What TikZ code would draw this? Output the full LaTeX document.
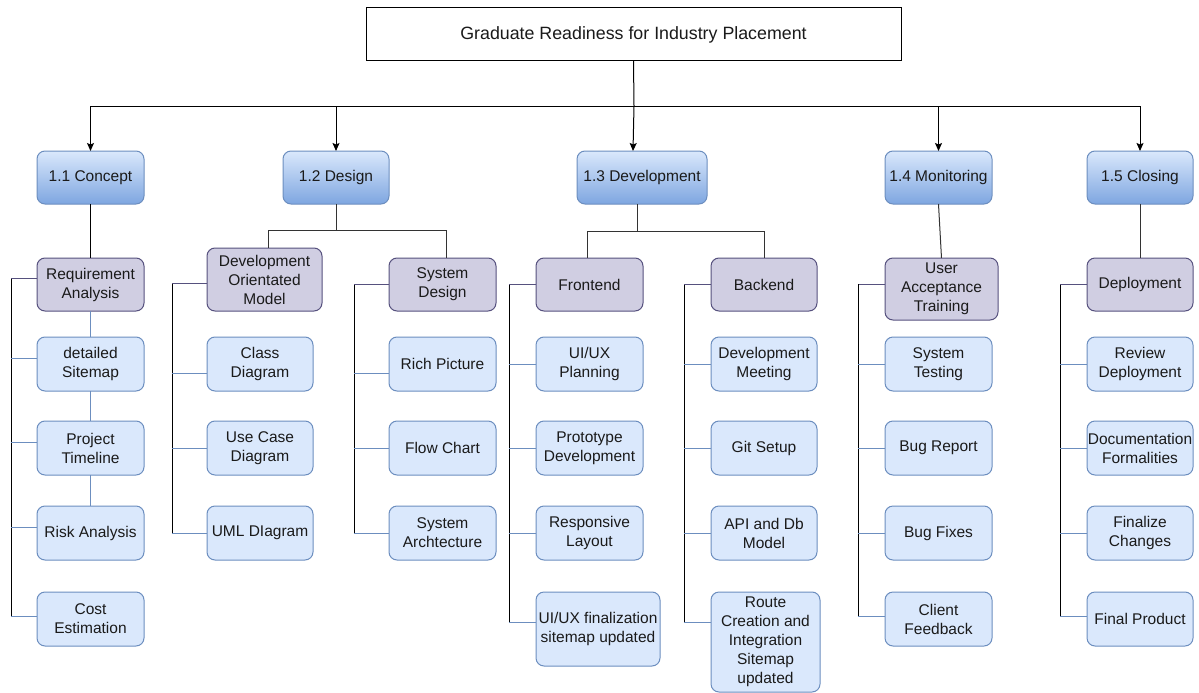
\documentclass[tikz,border=0pt]{standalone}
\usepackage{fontspec}
\setmainfont{Liberation Sans}
\usetikzlibrary{arrows.meta}
\definecolor{leaffill}{HTML}{DAE8FC}
\definecolor{leafline}{HTML}{6C8EBF}
\definecolor{grpfill}{HTML}{D0CEE2}
\definecolor{grpline}{HTML}{56517E}
\definecolor{phasetop}{HTML}{DAE8FC}
\definecolor{phasebot}{HTML}{7EA6E0}
\definecolor{txt}{HTML}{1A1A1A}
\definecolor{wire}{HTML}{333333}
% box from corner (x1,y1) to (x2,y2), y measured downwards
\newcommand{\bx}[7]{\node[#1, minimum width={(#5-#3)*1pt}, minimum height={(#6-#4)*1pt}] (#2) at ({(#3+#5)/2},{(#4+#6)/2}) {#7};}
\tikzset{
  basebox/.style={rounded corners=8pt, inner sep=0pt, outer sep=0pt, align=center, line width=1pt,
    text=txt, font=\fontsize{15.5}{19}\selectfont},
  leaf/.style={basebox, draw=leafline, fill=leaffill},
  grp/.style={basebox, draw=grpline, fill=grpfill},
  phase/.style={basebox, draw=leafline, top color=phasetop, bottom color=phasebot},
  rootbox/.style={basebox, rounded corners=0pt, draw=black, fill=white, font=\fontsize{17.8}{21}\selectfont},
  wireln/.style={draw=wire, line width=1pt},
  trunk/.style={draw=black, line width=1pt},
  branch/.style={draw=leafline, line width=1pt},
  grpbranch/.style={draw=grpline, line width=1pt},
  arrowln/.style={draw=black, line width=1pt, -{Stealth[length=8pt,width=7pt,inset=1.5pt]}}
}
\begin{document}
\begin{tikzpicture}[x=1pt,y=-1pt]
\useasboundingbox (0,0) rectangle (1199,693);

% root and phases
\bx{rootbox}{root}{366}{8}{901}{61}{Graduate Readiness for Industry Placement}
\bx{phase}{p1}{37}{151}{144}{204}{1.1 Concept}
\bx{phase}{p2}{283}{151}{389}{204}{1.2 Design}
\bx{phase}{p3}{577}{151}{707}{204}{1.3 Development}
\bx{phase}{p4}{885}{151}{992}{204}{1.4 Monitoring}
\bx{phase}{p5}{1087}{151}{1193}{204}{1.5 Closing}

% concept column
\bx{grp}{ra}{37}{258}{144}{311}{Requirement\\Analysis}
\bx{leaf}{ds}{37}{337}{144}{391}{detailed\\Sitemap}
\bx{leaf}{pt}{37}{421}{144}{475}{Project\\Timeline}
\bx{leaf}{rk}{37}{506}{144}{560}{Risk Analysis}
\bx{leaf}{ce}{37}{592}{144}{646}{Cost\\Estimation}

% design column
\bx{grp}{dom}{207}{248}{322}{311}{Development\\Orientated\\Model}
\bx{leaf}{cd}{207}{337}{313}{391}{Class\\Diagram}
\bx{leaf}{uc}{207}{421}{313}{475}{Use Case\\Diagram}
\bx{leaf}{uml}{207}{506}{313}{560}{UML DIagram}
\bx{grp}{sd}{389}{258}{496}{311}{System\\Design}
\bx{leaf}{rp}{389}{337}{496}{391}{Rich Picture}
\bx{leaf}{fc}{389}{421}{496}{475}{Flow Chart}
\bx{leaf}{sa}{389}{506}{496}{560}{System\\Archtecture}

% development column
\bx{grp}{fe}{536}{258}{643}{311}{Frontend}
\bx{leaf}{uxp}{536}{337}{643}{391}{UI/UX\\Planning}
\bx{leaf}{pd}{536}{421}{643}{475}{Prototype\\Development}
\bx{leaf}{rl}{536}{506}{643}{560}{Responsive\\Layout}
\bx{leaf}{uxf}{536}{592}{660}{666}{UI/UX finalization\\sitemap updated}
\bx{grp}{be}{711}{258}{817}{311}{Backend}
\bx{leaf}{dm}{711}{337}{817}{391}{Development\\Meeting}
\bx{leaf}{gs}{711}{421}{817}{475}{Git Setup}
\bx{leaf}{api}{711}{506}{817}{560}{API and Db\\Model}
\bx{leaf}{rc}{711}{592}{820}{692}{Route\\Creation and\\Integration\\Sitemap\\updated}

% monitoring column
\bx{grp}{uat}{885}{258}{998}{320}{User\\Acceptance\\Training}
\bx{leaf}{st}{885}{337}{992}{391}{System\\Testing}
\bx{leaf}{br}{885}{421}{992}{475}{Bug Report}
\bx{leaf}{bf}{885}{506}{992}{560}{Bug Fixes}
\bx{leaf}{cf}{885}{592}{992}{646}{Client\\Feedback}

% closing column
\bx{grp}{dep}{1087}{258}{1193}{311}{Deployment}
\bx{leaf}{rd}{1087}{337}{1193}{391}{Review\\Deployment}
\bx{leaf}{df}{1087}{421}{1193}{475}{Documentation\\Formalities}
\bx{leaf}{fch}{1087}{506}{1193}{560}{Finalize\\Changes}
\bx{leaf}{fp}{1087}{592}{1193}{646}{Final Product}

% root to phases
\coordinate (bus) at (634,106);
\draw[trunk] (root.south) -- (bus);
\foreach \p in {p1,p2,p4,p5}{\draw[arrowln] (bus) -| (\p.north);}
\draw[arrowln] (bus) -- ([xshift=-9pt]p3.north);

% phases to their first level
\draw[trunk] (p1.south) -- (ra.north);
\coordinate (dj) at (336,230);
\draw[wireln] (p2.south) -- (dj);
\draw[wireln] (dj) -| ([xshift=4pt]dom.north);
\draw[wireln] (dj) -| ([xshift=3.5pt]sd.north);
\coordinate (vj) at (637,231);
\draw[wireln] ([xshift=-5pt]p3.south) -- (vj);
\draw[wireln] (vj) -| ([xshift=-2.5pt]fe.north);
\draw[wireln] (vj) -| (be.north);
\draw[wireln] (p4.south) -- (uat.north);
\draw[wireln] (p5.south) -- (dep.north);

% concept chain
\draw[branch] (ra.south) -- (ds.north);
\draw[branch] (ds.south) -- (pt.north);
\draw[branch] (pt.south) -- (rk.north);

% side rails
\coordinate (r1) at (11,0);
\draw[grpbranch] ([yshift=6pt]ra.west) -- ([yshift=6pt]ra.west -| r1);
\draw[trunk] ([yshift=6pt]ra.west -| r1) -- ([yshift=3pt]ce.west -| r1);
\draw[branch] ([yshift=6pt]ds.west -| r1) -- ([yshift=6pt]ds.west);
\draw[branch] ([yshift=6pt]pt.west -| r1) -- ([yshift=6pt]pt.west);
\draw[branch] ([yshift=6pt]rk.west -| r1) -- ([yshift=6pt]rk.west);
\draw[branch] ([yshift=3pt]ce.west -| r1) -- ([yshift=3pt]ce.west);

\coordinate (r2) at (172,0);
\draw[grpbranch] ([yshift=-4pt]dom.west) -- ([yshift=-4pt]dom.west -| r2);
\draw[trunk] ([yshift=-4pt]dom.west -| r2) -- (uml.west -| r2);
\draw[branch] ([yshift=-9pt]cd.west -| r2) -- ([yshift=-9pt]cd.west);
\draw[branch] (uc.west -| r2) -- (uc.west);
\draw[branch] (uml.west -| r2) -- (uml.west);

\coordinate (r3) at (354,0);
\draw[grpbranch] (sd.west) -- (sd.west -| r3);
\draw[trunk] (sd.west -| r3) -- (sa.west -| r3);
\draw[branch] ([yshift=-9pt]rp.west -| r3) -- ([yshift=-9pt]rp.west);
\draw[branch] (fc.west -| r3) -- (fc.west);
\draw[branch] (sa.west -| r3) -- (sa.west);

\coordinate (r4) at (509,0);
\draw[grpbranch] (fe.west) -- (fe.west -| r4);
\draw[trunk] (fe.west -| r4) -- ([yshift=7pt]uxf.west -| r4);
\draw[branch] (uxp.west -| r4) -- (uxp.west);
\draw[branch] (pd.west -| r4) -- (pd.west);
\draw[branch] (rl.west -| r4) -- (rl.west);
\draw[branch] ([yshift=7pt]uxf.west -| r4) -- ([yshift=7pt]uxf.west);

\coordinate (r5) at (684,0);
\draw[grpbranch] (be.west) -- (be.west -| r5);
\draw[trunk] (be.west -| r5) -- ([yshift=20pt]rc.west -| r5);
\draw[branch] (dm.west -| r5) -- (dm.west);
\draw[branch] (gs.west -| r5) -- (gs.west);
\draw[branch] (api.west -| r5) -- (api.west);
\draw[branch] ([yshift=20pt]rc.west -| r5) -- ([yshift=20pt]rc.west);

\coordinate (r6) at (858,0);
\draw[grpbranch] ([yshift=5pt]uat.west) -- ([yshift=5pt]uat.west -| r6);
\draw[trunk] ([yshift=5pt]uat.west -| r6) -- ([yshift=3pt]cf.west -| r6);
\draw[branch] (st.west -| r6) -- (st.west);
\draw[branch] (br.west -| r6) -- (br.west);
\draw[branch] (bf.west -| r6) -- (bf.west);
\draw[branch] ([yshift=3pt]cf.west -| r6) -- ([yshift=3pt]cf.west);

\coordinate (r7) at (1060,0);
\draw[grpbranch] (dep.west) -- (dep.west -| r7);
\draw[trunk] (dep.west -| r7) -- ([yshift=3pt]fp.west -| r7);
\draw[branch] (rd.west -| r7) -- (rd.west);
\draw[branch] (df.west -| r7) -- (df.west);
\draw[branch] (fch.west -| r7) -- (fch.west);
\draw[branch] ([yshift=3pt]fp.west -| r7) -- ([yshift=3pt]fp.west);
\end{tikzpicture}
\end{document}
